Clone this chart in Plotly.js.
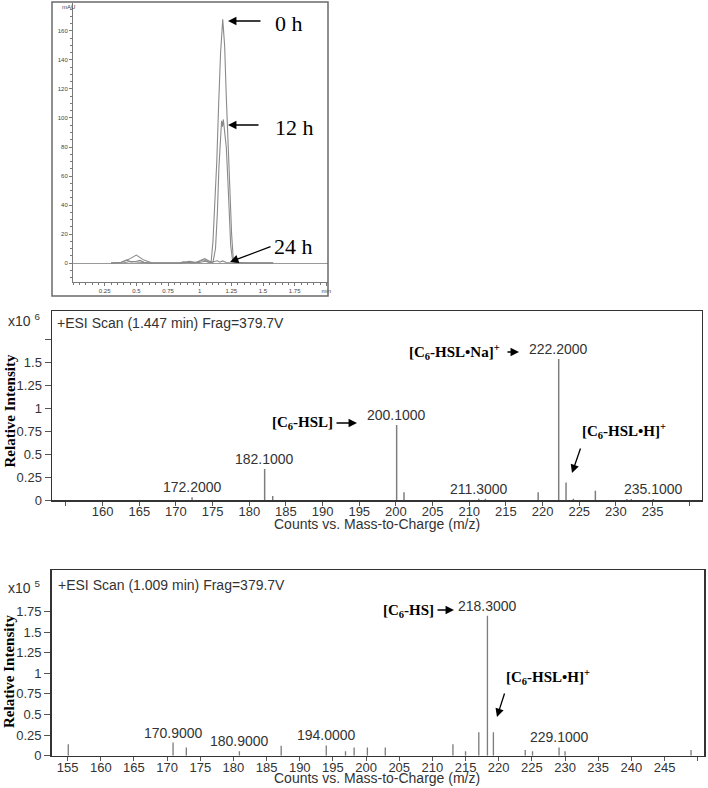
<!DOCTYPE html>
<html>
<head>
<meta charset="utf-8">
<script src="https://cdn.plot.ly/plotly-3.0.1.min.js"></script>
<style>
  html, body { margin: 0; padding: 0; background: #fff; }
  #chart { width: 708px; height: 788px; }
</style>
</head>
<body>
<div id="chart"></div>
<script>
/* =========================
   CHROMATOGRAM (top panel)
========================= */
const time0h = [0.30, 0.38, 0.44, 0.50, 0.56, 0.62, 0.84, 0.88, 0.92, 0.97, 1.00, 1.04, 1.07, 1.09, 1.105, 1.12, 1.135, 1.15, 1.165, 1.182, 1.197, 1.21, 1.225, 1.24, 1.252, 1.265, 1.28, 1.40, 1.58];
const abs0h = [0, 0.3, 2.5, 5.5, 2.0, 0.2, 0, 0.6, 1.2, 0.4, 1.5, 3.0, 1.5, 0.5, 15, 40, 70, 110, 145, 168, 150, 115, 80, 45, 20, 3, 0.5, 0, 0];

const time12h = [0.30, 0.38, 0.42, 0.46, 0.50, 0.53, 0.56, 0.62, 0.84, 0.87, 0.90, 0.96, 1.00, 1.03, 1.07, 1.105, 1.125, 1.14, 1.152, 1.165, 1.173, 1.18, 1.187, 1.20, 1.21, 1.221, 1.232, 1.245, 1.26, 1.30, 1.58];
const abs12h = [0, 0.5, 2.0, 0.8, 1.2, 1.8, 0.5, 0, 0, 0.8, 0.3, 0.2, 1.2, 2.2, 0.8, 0.5, 10, 35, 66, 90, 98, 94, 99, 88, 80, 60, 35, 12, 1.5, 0, 0];

const time24h = [0.30, 0.40, 0.45, 0.52, 0.60, 0.86, 0.90, 1.00, 1.04, 1.08, 1.12, 1.14, 1.16, 1.18, 1.21, 1.25, 1.58];
const abs24h = [0, 0.2, 1.0, 0.6, 0, 0, 0.5, 0.3, 1.2, 0.4, 0.8, 1.5, 0.6, 1.4, 0.3, 0, 0];

const chromTickX = [0.25, 0.5, 0.75, 1, 1.25, 1.5, 1.75, 2];
const chromTickXText = ["0.25", "0.5", "0.75", "1", "1.25", "1.5", "1.75", "min"];
const chromTickY = [0, 20, 40, 60, 80, 100, 120, 140, 160];

/* =========================
   MASS SPECTRA
========================= */
// scan at 1.447 min, intensities x10^6
const mzA = [172.2, 182.1, 183.2, 200.1, 201.1, 211.3, 212.2, 219.4, 222.2, 223.2, 224.2, 227.2, 231.5, 232.1, 235.1];
const intA = [0.03, 0.34, 0.045, 0.82, 0.085, 0.015, 0.015, 0.085, 1.54, 0.19, 0.015, 0.10, 0.012, 0.012, 0.012];
const labelsA = [172.2, 182.1, 200.1, 211.3, 222.2, 235.1];

// scan at 1.009 min, intensities x10^5
const mzB = [155.1, 170.9, 172.9, 180.9, 187.2, 194.0, 196.9, 198.2, 200.2, 202.9, 213.1, 215.0, 217.0, 218.3, 219.2, 224.0, 225.1, 229.1, 230.0, 249.0];
const intB = [0.14, 0.16, 0.10, 0.055, 0.12, 0.125, 0.055, 0.10, 0.10, 0.10, 0.14, 0.055, 0.285, 1.70, 0.285, 0.07, 0.055, 0.10, 0.055, 0.07];
const labelsB = [170.9, 180.9, 194.0, 218.3, 229.1];

const mzTicksA = [155, 160, 165, 170, 175, 180, 185, 190, 195, 200, 205, 210, 215, 220, 225, 230, 235, 240];
const mzTickTextA = ["", "160", "165", "170", "175", "180", "185", "190", "195", "200", "205", "210", "215", "220", "225", "230", "235", ""];
const intTicksA = [0, 0.25, 0.5, 0.75, 1, 1.25, 1.5, 1.75];
const intTickTextA = ["0", "0.25", "0.5", "0.75", "1", "1.25", "1.5", ""];

const mzTicksB = [155, 160, 165, 170, 175, 180, 185, 190, 195, 200, 205, 210, 215, 220, 225, 230, 235, 240, 245, 250];
const mzTickTextB = ["155", "160", "165", "170", "175", "180", "185", "190", "195", "200", "205", "210", "215", "220", "225", "230", "235", "240", "245", ""];
const intTicksB = [0, 0.25, 0.5, 0.75, 1, 1.25, 1.5, 1.75];
const intTickTextB = ["0", "0.25", "0.5", "0.75", "1", "1.25", "1.5", "1.75"];

/* =========================
   HELPERS (pixel -> paper)
========================= */
const W = 708, H = 788;
const px = x => x / W;
const py = y => 1 - y / H;

const SANS = "Liberation Sans, Arial, sans-serif";
const SERIF = "Liberation Serif, Times New Roman, serif";

function note(text, x, y, font, extra) {
  return Object.assign({
    xref: "paper", yref: "paper", x: px(x), y: py(y),
    text: text, showarrow: false, font: font,
    xanchor: "center", yanchor: "middle"
  }, extra || {});
}

function arrow(x0, y0, x1, y1) {
  return {
    xref: "paper", yref: "paper", x: px(x1), y: py(y1),
    ax: x0 - x1, ay: y0 - y1, text: "", showarrow: true,
    arrowhead: 2, arrowsize: 1.3, arrowwidth: 1.3, arrowcolor: "#000"
  };
}

function peakNotes(mz, vals, labels, xref, yref) {
  return labels.map(m => ({
    xref: xref, yref: yref, x: m, y: vals[mz.indexOf(m)],
    text: m.toFixed(4), showarrow: false, yanchor: "bottom",
    font: { family: SANS, size: 14, color: "#333" }
  }));
}

const serifBig = { family: SERIF, size: 22, color: "#000" };
const serifBold = { family: SERIF, size: 15, color: "#000" };
const sans14 = { family: SANS, size: 14, color: "#333" };
const tiny = { family: SANS, size: 6, color: "#444" };

/* =========================
   TRACES
========================= */
const chromLine = { color: "#8a8a8a", width: 1.1 };
const traces = [
  { x: time0h, y: abs0h, xaxis: "x", yaxis: "y", type: "scatter", mode: "lines", line: chromLine, name: "0 h" },
  { x: time12h, y: abs12h, xaxis: "x", yaxis: "y", type: "scatter", mode: "lines", line: chromLine, name: "12 h" },
  { x: time24h, y: abs24h, xaxis: "x", yaxis: "y", type: "scatter", mode: "lines", line: chromLine, name: "24 h" },
  { x: mzA, y: intA, xaxis: "x2", yaxis: "y2", type: "bar", width: 0.2, marker: { color: "#7d7d7d" } },
  { x: mzB, y: intB, xaxis: "x3", yaxis: "y3", type: "bar", width: 0.2, marker: { color: "#7d7d7d" } }
];

/* =========================
   AXES
========================= */
const specX = {
  showline: true, mirror: true, linecolor: "#333", linewidth: 1.5,
  ticks: "outside", ticklen: 4, tickcolor: "#555",
  tickfont: { family: SANS, size: 13, color: "#333" },
  ticklabelstandoff: -5,
  showgrid: false, zeroline: false, tickmode: "array"
};
const specY = Object.assign({}, specX, { ticklen: 6, ticklabelstandoff: 0 });

const chromAxis = {
  showline: true, linecolor: "#7a7a7a", linewidth: 1,
  ticks: "outside", ticklen: 3, tickcolor: "#7a7a7a",
  tickfont: tiny, showgrid: false, tickmode: "array"
};

const layout = {
  width: W, height: H,
  margin: { l: 0, r: 0, t: 0, b: 0 },
  paper_bgcolor: "#fff", plot_bgcolor: "#fff",
  showlegend: false,
  xaxis: Object.assign({}, chromAxis, {
    domain: [px(73), px(328)], range: [0, 2.013], anchor: "y",
    tickvals: chromTickX, ticktext: chromTickXText, zeroline: false,
    minor: { dtick: 0.05, ticks: "outside", ticklen: 2, tickcolor: "#7a7a7a" }
  }),
  yaxis: Object.assign({}, chromAxis, {
    domain: [py(282), py(3)], range: [-13.1, 179.3], anchor: "x",
    tickvals: chromTickY,
    zeroline: true, zerolinecolor: "#9a9a9a", zerolinewidth: 1,
    minor: { dtick: 5, ticks: "outside", ticklen: 2, tickcolor: "#7a7a7a" }
  }),
  xaxis2: Object.assign({}, specX, {
    domain: [px(52), px(701.7)], range: [153.1, 241.7], anchor: "y2",
    tickvals: mzTicksA, ticktext: mzTickTextA
  }),
  yaxis2: Object.assign({}, specY, {
    domain: [py(500), py(311)], range: [0, 2.065], anchor: "x2",
    tickvals: intTicksA, ticktext: intTickTextA
  }),
  xaxis3: Object.assign({}, specX, {
    domain: [px(51.7), px(704.3)], range: [152.6, 251.0], anchor: "y3",
    tickvals: mzTicksB, ticktext: mzTickTextB
  }),
  yaxis3: Object.assign({}, specY, {
    domain: [py(755.7), py(570)], range: [0, 2.254], anchor: "x3",
    tickvals: intTicksB, ticktext: intTickTextB
  }),
  shapes: [
    { type: "rect", xref: "paper", yref: "paper",
      x0: px(52), x1: px(328), y0: py(296), y1: py(2),
      line: { color: "#6a6a6a", width: 1.5 } }
  ],
  annotations: [
    // chromatogram
    note("mAU", 68, 7, tiny),
    note("0 h", 289, 24, serifBig),
    note("12 h", 294, 127, serifBig),
    note("24 h", 293, 246, serifBig),
    arrow(262, 21, 228, 21),
    arrow(260, 125, 228, 125),
    arrow(272, 246, 230, 262),

    // spectrum A
    note("+ESI Scan (1.447 min) Frag=379.7V", 55, 322.5, sans14, { xanchor: "left" }),
    note("x10 <sup>6</sup>", 42, 320, sans14, { xanchor: "right" }),
    note("<b>Relative Intensity</b>", 9, 411.5, serifBold, { textangle: -90 }),
    note("Counts vs. Mass-to-Charge (m/z)", 377, 524, sans14),
    note("<b>[C<sub>6</sub>-HSL]</b>", 302.5, 423, serifBold),
    arrow(335, 423, 357, 423),
    note("<b>[C<sub>6</sub>-HSL•Na]<sup>+</sup></b>", 454, 351.5, serifBold),
    arrow(506, 352, 519, 352),
    note("<b>[C<sub>6</sub>-HSL•H]<sup>+</sup></b>", 624, 431.5, serifBold),
    arrow(581, 447, 572, 473),

    // spectrum B
    note("+ESI Scan (1.009 min) Frag=379.7V", 56, 585, sans14, { xanchor: "left" }),
    note("x10 <sup>5</sup>", 42, 586.5, sans14, { xanchor: "right" }),
    note("<b>Relative Intensity</b>", 9, 672, serifBold, { textangle: -90 }),
    note("Counts vs. Mass-to-Charge (m/z)", 377, 778, sans14),
    note("<b>[C<sub>6</sub>-HS]</b>", 408, 610.5, serifBold),
    arrow(436, 610, 454, 610),
    note("<b>[C<sub>6</sub>-HSL•H]<sup>+</sup></b>", 548, 676.5, serifBold),
    arrow(505, 692, 497, 717)
  ]
    .concat(peakNotes(mzA, intA, labelsA, "x2", "y2"))
    .concat(peakNotes(mzB, intB, labelsB, "x3", "y3"))
};

const config = { displayModeBar: false, staticPlot: true };

Plotly.newPlot("chart", traces, layout, config);
</script>
</body>
</html>
